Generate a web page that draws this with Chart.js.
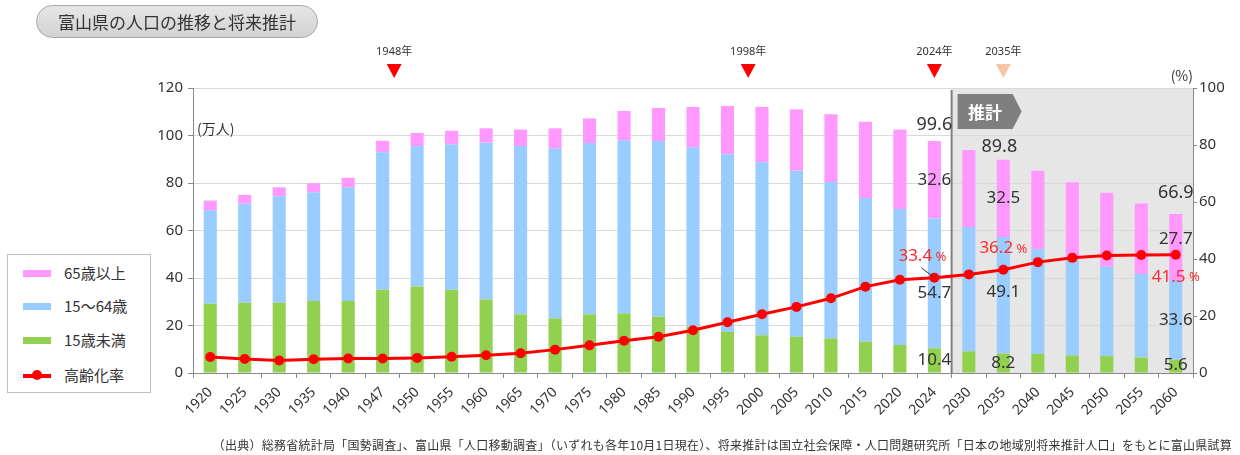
<!DOCTYPE html>
<html lang="ja">
<head>
<meta charset="utf-8">
<script src="https://cdn.jsdelivr.net/npm/chart.js@4.4.1/dist/chart.umd.min.js"></script>
<style>
  html,body{margin:0;padding:0;background:#fff;}
  body{width:1240px;height:455px;position:relative;overflow:hidden;font-family:'Noto Sans','Noto Sans CJK JP',sans-serif;color:#333;}
  #c{position:absolute;left:0;top:0;}
  .title{position:absolute;left:36px;top:5px;width:280px;height:31px;border:1px solid #a6a6a6;border-radius:17px;
    background:linear-gradient(#e6e6e6,#d2d2d2);font-family:'Noto Sans CJK JP',sans-serif;font-size:17px;line-height:31px;text-align:center;color:#333;}
  .legend{position:absolute;left:7px;top:254px;width:142px;height:137px;border:1px solid #bfbfbf;background:#fff;
    font-family:'Noto Sans CJK JP',sans-serif;font-size:15px;color:#333;}
  .li{position:absolute;left:0;height:20px;line-height:20px;}
  .sw{position:absolute;left:15px;top:7px;width:28px;height:7px;}
  .lt{position:absolute;left:56px;top:0;white-space:nowrap;}
  .footer{position:absolute;right:8px;top:436px;font-family:'Noto Sans CJK JP',sans-serif;font-size:12px;color:#333;white-space:nowrap;letter-spacing:0.25px;}
</style>
</head>
<body>
<canvas id="c" width="1240" height="455"></canvas>
<div class="title">富山県の人口の推移と将来推計</div>
<div class="legend">
  <div class="li" style="top:8px"><div class="sw" style="background:#ff99ff"></div><div class="lt">65歳以上</div></div>
  <div class="li" style="top:41px"><div class="sw" style="background:#99ccff"></div><div class="lt">15～64歳</div></div>
  <div class="li" style="top:75px"><div class="sw" style="background:#92d050"></div><div class="lt">15歳未満</div></div>
  <div class="li" style="top:110px"><div class="sw" style="background:#ff0000;height:4px;top:9px"></div>
    <div style="position:absolute;left:24px;top:5px;width:10px;height:10px;border-radius:5px;background:#ff0000"></div><div class="lt">高齢化率</div></div>
</div>
<div class="footer">（出典）総務省統計局「国勢調査」、富山県「人口移動調査」（いずれも各年10月1日現在）、将来推計は国立社会保障・人口問題研究所「日本の地域別将来推計人口」をもとに富山県試算</div>
<script>
// ---- data ----
const categories = ['1920','1925','1930','1935','1940','1947','1950','1955','1960','1965','1970','1975','1980','1985','1990','1995','2000','2005','2010','2015','2020','2024','2030','2035','2040','2045','2050','2055','2060'];
const under15   = [29.2,29.6,29.6,30.3,30.3,35.1,36.4,35.1,31.0,24.7,23.0,24.7,25.1,23.7,19.6,17.3,15.9,15.3,14.6,13.2,11.8,10.4, 9.1, 8.2, 8.0, 7.4, 7.1, 6.5, 5.6];
const age15to64 = [39.3,41.7,44.8,45.8,47.9,57.8,59.2,61.2,66.0,70.9,71.5,72.1,72.9,74.0,75.3,74.8,72.8,69.9,65.8,60.5,57.3,54.7,52.4,49.1,44.1,40.9,37.7,35.2,33.6];
const over65    = [ 4.1, 3.7, 3.8, 3.8, 4.0, 4.9, 5.5, 5.7, 6.0, 6.9, 8.5,10.4,12.3,13.9,17.1,20.3,23.3,25.8,28.5,32.1,33.4,32.6,32.4,32.5,33.1,32.0,31.1,29.7,27.7];
const agingRate = [ 5.6, 4.9, 4.4, 4.8, 5.1, 5.1, 5.3, 5.7, 6.2, 6.9, 8.2, 9.7,11.3,12.7,15.0,17.8,20.6,23.2,26.2,30.3,32.7,33.4,34.6,36.2,38.9,40.4,41.2,41.4,41.5];
const leftTicks  = [0,20,40,60,80,100,120];
const rightTicks = [0,20,40,60,80,100];
const annotatedYears = ['2024','2035','2060'];
const totalLabels    = ['99.6','89.8','66.9'];
const markerYears = [1948,1998,2024,2035];
const firstProjection = '2030';

Chart.defaults.font.family = "'Noto Sans','Noto Sans CJK JP',sans-serif";
Chart.defaults.color = '#333';

function yearToIndex(yr){
  const ys = categories.map(Number);
  for(let i=0;i<ys.length-1;i++){
    if(yr>=ys[i] && yr<=ys[i+1]) return i + (yr-ys[i])/(ys[i+1]-ys[i]);
  }
  return ys.length-1;
}

const overlay = {
  id:'overlay',
  beforeDraw(chart){
    const {ctx, chartArea:a, scales:{x}} = chart;
    const pi = categories.indexOf(firstProjection);
    const sx = (x.getPixelForValue(pi-1)+x.getPixelForValue(pi))/2;
    ctx.save();
    ctx.fillStyle = '#e6e6e6';
    ctx.fillRect(sx, a.top, a.right-sx, a.bottom-a.top);
    ctx.restore();
  },
  beforeDatasetsDraw(chart){
    const {ctx, chartArea:a, scales:{x}} = chart;
    const pi = categories.indexOf(firstProjection);
    const sx = (x.getPixelForValue(pi-1)+x.getPixelForValue(pi))/2;
    ctx.save();
    ctx.strokeStyle = '#808080'; ctx.lineWidth = 2;
    ctx.beginPath(); ctx.moveTo(sx, a.top+2); ctx.lineTo(sx, a.bottom); ctx.stroke();
    // 推計 tag
    const tx = sx+6, ty = a.top+6, tw = 55, th = 35, tp = 9;
    ctx.fillStyle = '#7f7f7f';
    ctx.beginPath(); ctx.moveTo(tx,ty); ctx.lineTo(tx+tw,ty); ctx.lineTo(tx+tw+tp,ty+th/2); ctx.lineTo(tx+tw,ty+th); ctx.lineTo(tx,ty+th); ctx.closePath(); ctx.fill();
    ctx.fillStyle = '#fff'; ctx.font = "bold 17px 'Noto Sans CJK JP'"; ctx.textAlign='center'; ctx.textBaseline='middle';
    ctx.fillText('推計', tx+tw/2, ty+th/2+1);
    ctx.restore();
  },
  afterDatasetsDraw(chart){
    const {ctx, chartArea:a, scales:{x, y, y1}} = chart;
    ctx.save();
    ctx.textBaseline = 'middle';
    // units
    ctx.fillStyle = '#333'; ctx.font = "14px 'Noto Sans CJK JP'";
    ctx.textAlign = 'left'; ctx.fillText('(万人)', a.left+4, 129);
    ctx.textAlign = 'right'; ctx.fillText('(%)', a.right, 76);
    // top markers
    markerYears.forEach((yr, k) => {
      const px = x.getPixelForValue(yearToIndex(yr));
      ctx.fillStyle = '#333'; ctx.font = "11px 'Noto Sans','Noto Sans CJK JP'"; ctx.textAlign='center';
      ctx.fillText(yr + '年', px, 52);
      ctx.fillStyle = yr === 2035 ? '#f8c6a4' : '#ff0000';
      ctx.beginPath(); ctx.moveTo(px-7.5, 64); ctx.lineTo(px+7.5, 64); ctx.lineTo(px, 78); ctx.closePath(); ctx.fill();
    });
    // data labels
    annotatedYears.forEach((yr, k) => {
      const i = categories.indexOf(yr);
      const cx = x.getPixelForValue(i);
      const g = under15[i], b = age15to64[i], p = over65[i];
      const top = y.getPixelForValue(g+b+p);
      ctx.fillStyle = '#333'; ctx.textAlign = 'center';
      ctx.font = "18px 'Noto Sans'";
      const tdy = yr === '2060' ? -21 : (yr === '2024' ? -16 : -13);
      const tdx = yr === '2035' ? -4 : 0;
      ctx.fillText(totalLabels[k], cx+tdx, top+tdy);
      ctx.font = "17px 'Noto Sans'";
      const pdy = yr === '2060' ? -8 : 0;
      ctx.fillText(p.toFixed(1), cx, y.getPixelForValue(g+b+p/2)+pdy);
      const bdy = yr === '2024' ? 10 : (yr === '2035' ? -3 : 0);
      ctx.fillText(b.toFixed(1), cx, y.getPixelForValue(g+b/2)+bdy);
      ctx.fillText(g.toFixed(1), cx, Math.min(y.getPixelForValue(g/2), a.bottom-8));
      // aging rate label
      const ry = y1.getPixelForValue(agingRate[i]);
      const rdx = yr === '2024' ? -12 : 0;
      const rdy = yr === '2060' ? 22 : -22;
      const num = agingRate[i].toFixed(1);
      ctx.font = "17px 'Noto Sans'"; const w1 = ctx.measureText(num).width;
      ctx.font = "13px 'Noto Sans'"; const w2 = ctx.measureText(' %').width;
      const sx0 = cx + rdx - (w1+w2)/2;
      ctx.fillStyle = '#ff2b2b'; ctx.textAlign = 'left';
      ctx.font = "17px 'Noto Sans'"; ctx.fillText(num, sx0, ry+rdy);
      ctx.font = "13px 'Noto Sans'"; ctx.fillText(' %', sx0+w1, ry+rdy+1);
      if (yr === '2024') {
        ctx.strokeStyle = '#333'; ctx.lineWidth = 1;
        ctx.beginPath(); ctx.moveTo(cx-13, ry-10); ctx.lineTo(cx-1, ry-1); ctx.stroke();
      }
    });
    ctx.restore();
  }
};

new Chart(document.getElementById('c'), {
  data: {
    labels: categories,
    datasets: [
      {type:'line', label:'高齢化率', data: agingRate, yAxisID:'y1', borderColor:'#ff0000', backgroundColor:'#ff0000',
       borderWidth:3, pointRadius:5, pointBackgroundColor:'#ff0000', pointBorderWidth:0, order:0, tension:0},
      {type:'bar', label:'15歳未満', data: under15, backgroundColor:'#92d050', yAxisID:'y', stack:'s', order:1, barPercentage:0.38, categoryPercentage:1},
      {type:'bar', label:'15～64歳', data: age15to64, backgroundColor:'#99ccff', yAxisID:'y', stack:'s', order:1, barPercentage:0.38, categoryPercentage:1},
      {type:'bar', label:'65歳以上', data: over65, backgroundColor:'#ff99ff', yAxisID:'y', stack:'s', order:1, barPercentage:0.38, categoryPercentage:1}
    ]
  },
  options: {
    responsive:false, animation:false, devicePixelRatio:1,
    layout:{padding:{top:88, left:0, right:0, bottom:0}},
    plugins:{legend:{display:false}, tooltip:{enabled:false}},
    scales:{
      x:{stacked:true, offset:true,
         grid:{display:true, drawOnChartArea:false, drawTicks:true, tickLength:5, tickColor:'#888', offset:true},
         border:{color:'#888', width:1},
         ticks:{minRotation:45, maxRotation:45, autoSkip:false, font:{size:14}, color:'#333', padding:6},
         afterFit(s){ s.height = 82; }},
      y:{stacked:true, position:'left', min:0, max:120,
         afterBuildTicks(s){ s.ticks = leftTicks.map(v=>({value:v})); },
         grid:{color:'#d9d9d9', tickColor:'#888', tickLength:5},
         border:{color:'#888', width:1},
         ticks:{font:{size:15}, color:'#333', padding:5},
         afterFit(s){ s.width = 193; }},
      y1:{position:'right', min:0, max:100,
         afterBuildTicks(s){ s.ticks = rightTicks.map(v=>({value:v})); },
         grid:{drawOnChartArea:false, tickColor:'#888', tickLength:4},
         border:{color:'#888', width:1},
         ticks:{font:{size:15}, color:'#333', padding:2},
         afterFit(s){ s.width = 47; }}
    }
  },
  plugins:[overlay]
});
</script>
</body>
</html>
